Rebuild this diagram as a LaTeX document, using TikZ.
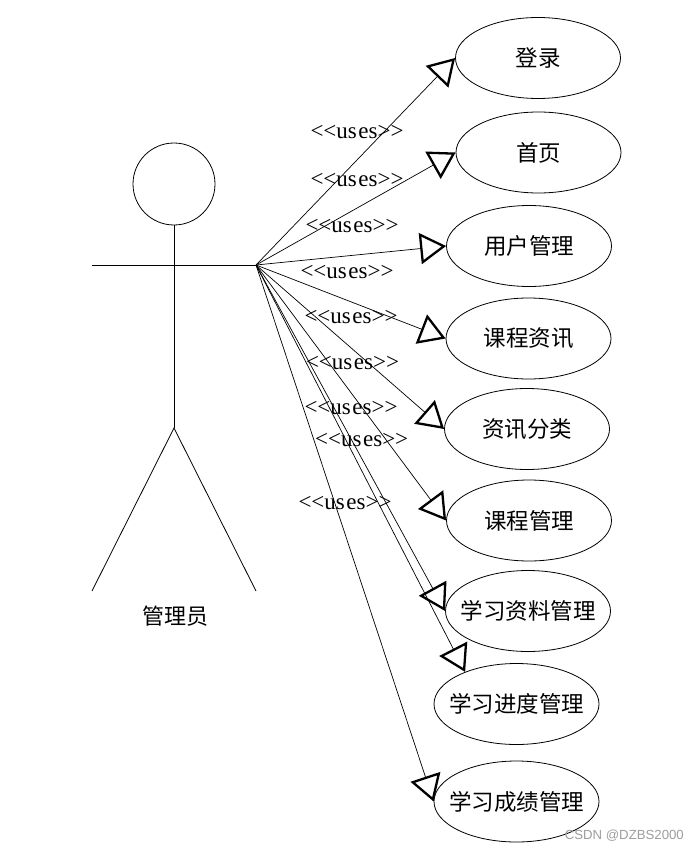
\documentclass[tikz,border=0pt]{standalone}
\usepackage{fontspec}
\usetikzlibrary{arrows.meta,shapes.geometric}
\newfontfamily\cjkfont{Noto Sans CJK SC}
\newfontfamily\lblfont{Liberation Serif}
\newfontfamily\wmfont{Liberation Sans}
\newcommand{\usestext}{<\kern0pt<us\kern1.5pt es>\kern0pt>}
\begin{document}
\begin{tikzpicture}[x=1pt,y=-1pt,
  uc/.style={ellipse, draw, line width=0.8pt, minimum width=165pt, minimum height=81pt, inner xsep=-50pt, inner ysep=-12pt, font=\cjkfont\fontsize{22.5}{27}\selectfont},
  rel/.style={line width=0.7pt, -{Triangle[open, length=26pt, width=31pt, line width=2.3pt]}},
  uses/.style={font=\lblfont\fontsize{23}{26}\selectfont, inner sep=0pt},
  act/.style={line width=0.8pt},
  actlabel/.style={font=\cjkfont\fontsize{22}{26}\selectfont, inner sep=0pt},
  wm/.style={font=\wmfont\fontsize{13.2}{15}\selectfont, text=black!38, inner sep=0pt}]
\useasboundingbox[fill=white] (0,0) rectangle (699,853);
% actor
\node[circle, draw, line width=0.8pt, minimum size=82pt, inner sep=0pt] (head) at (174,184) {};
\coordinate (hip) at (174,428);
\coordinate (lhand) at (92,265);
\coordinate (hub) at (256,265);
\coordinate (lfoot) at (92,591);
\coordinate (rfoot) at (256,591);
\draw[act] (head.south) -- (hip);
\draw[act] (lhand) -- (hub);
\draw[act] (lfoot) -- (hip) -- (rfoot);
\node[actlabel] (actor) at (175,616) {管理员};
% use cases
\node[uc] (e1) at (538,58) {登录};
\node[uc] (e2) at (538.5,152.5) {首页};
\node[uc] (e3) at (529,246) {用户管理};
\node[uc] (e4) at (528.5,338.5) {课程资讯};
\node[uc] (e5) at (527,429) {资讯分类};
\node[uc] (e6) at (529,520.5) {课程管理};
\node[uc] (e7) at (528,611) {学习资料管理};
\node[uc] (e8) at (516.5,704) {学习进度管理};
\node[uc] (e9) at (516.5,801.5) {学习成绩管理};
% connectors
\draw[rel] (hub) -- (e1.west);
\draw[rel] (hub) -- (e2.west);
\draw[rel] (hub) -- (e3.west);
\draw[rel] (hub) -- (e4.west);
\draw[rel] (hub) -- (e5.west);
\draw[rel] (hub) -- (e6.west);
\draw[rel] (hub) -- (e7.west);
\draw[rel] (hub) -- (e8.148);
\draw[rel] (hub) -- (e9.west);
% labels
\node[uses] (u1) at (357,132) {\usestext};
\node[uses] (u2) at (357,180) {\usestext};
\node[uses] (u3) at (352,226) {\usestext};
\node[uses] (u4) at (347,272) {\usestext};
\node[uses] (u5) at (351,317) {\usestext};
\node[uses] (u6) at (352.5,363) {\usestext};
\node[uses] (u7) at (351,408) {\usestext};
\node[uses] (u8) at (361.7,440) {\usestext};
\node[uses] (u9) at (345,503) {\usestext};
% watermark
\node[wm, anchor=east] (wmark) at (684,836) {CSDN @DZBS2000};
\end{tikzpicture}
\end{document}
